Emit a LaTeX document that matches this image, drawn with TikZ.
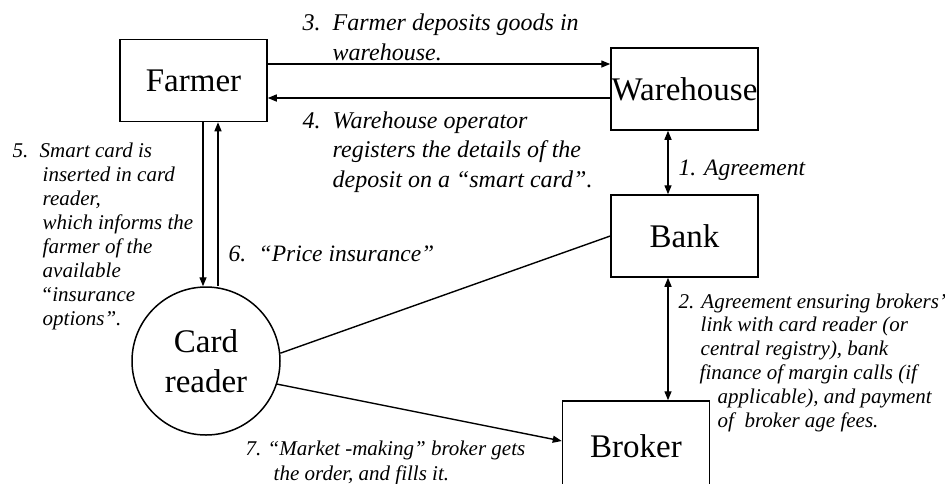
\documentclass[tikz,border=0pt]{standalone}
\usepackage{fontspec}
\setmainfont{Liberation Serif}
\usetikzlibrary{arrows.meta}
\tikzstyle{party}=[
        draw,
        line width = 1.5pt,
        minimum width = 147pt,
        minimum height = 82pt,
        inner sep = 0pt,
        font = \fontsize{33}{40}\selectfont
    ]
\tikzstyle{terminal}=[
    draw,
    circle,
    line width = 1.5pt,
    minimum size = 148pt,
    inner sep = 0pt,
    align = center,
    font = \fontsize{33}{40}\selectfont
]
\tikzstyle{note}=[
    anchor = base west,
    align = left,
    inner sep = 0pt
]
\newcommand{\stepno}[2]{\makebox[#1][l]{#2}}

\begin{document}
\begin{tikzpicture}[x=1pt, y=-1pt, line width=1.4pt, >={Triangle[length=9pt,width=7pt]}]
        \useasboundingbox (0,0) rectangle (945,483);
        \clip (0,0) rectangle (945,483);

        \node[party] (farmer) at (193.5,80.5) {Farmer};
        \node[party] (wh) at (684.5,89) {Warehouse};
        \node[party] (bank) at (684.5,236) {Bank};
        \node[party, minimum height = 90pt] (broker) at (636,446) {Broker};
        \node[terminal] (card) at (206,361) {Card\\reader};

        \draw[->] ([yshift=16.5pt]farmer.east) -- ([yshift=16.5pt]farmer.east -| wh.west);
        \draw[->] ([yshift=-17.5pt]farmer.east -| wh.west) -- ([yshift=-17.5pt]farmer.east);
        \draw[->] ([xshift=9.5pt]farmer.south) -- ([xshift=9.5pt]farmer.south |- card.north);
        \draw[->] ([xshift=24.5pt]farmer.south |- card.north) -- ([xshift=24.5pt]farmer.south);
        \draw[<->] ([xshift=-16.5pt]wh.south) -- ([xshift=-16.5pt]bank.north);
        \draw[<->] ([xshift=-16.5pt]bank.south) -- ([xshift=-16.5pt]bank.south |- broker.north);
        \draw (card.6) -- (bank.west);
        \draw[->] (card.-18) -- ([yshift=5pt]broker.west);

        % multi-line notes sit on the baseline of their last line
        \node[note, font=\itshape\fontsize{24}{30}\selectfont] (l3) at (302,60)
            {\stepno{30pt}{3.}Farmer deposits goods in\\\hspace*{30pt}warehouse.};
        \node[note, font=\itshape\fontsize{24}{29.5}\selectfont] (l4) at (302,187)
            {\stepno{30pt}{4.}Warehouse operator\\\hspace*{30pt}registers the details of the\\\hspace*{30pt}deposit on a ``smart card''.};
        \node[note, font=\itshape\fontsize{23.5}{28}\selectfont] (l1) at (678,175) {1. Agreement};
        \node[note, font=\itshape\fontsize{21}{23.9}\selectfont] (l5) at (12,325)
            {\stepno{27pt}{5.}Smart card is\\\hspace*{30pt}inserted in card\\\hspace*{30pt}reader,\\\hspace*{30pt}which informs the\\\hspace*{30pt}farmer of the\\\hspace*{30pt}available\\\hspace*{28pt}``insurance\\\hspace*{30pt}options''.};
        \node[note, font=\itshape\fontsize{23.5}{28}\selectfont] (l6) at (228,261) {\stepno{30pt}{6.}``Price insurance''};
        \node[note, font=\itshape\fontsize{21}{23.8}\selectfont] (l2) at (678,427)
            {2. Agreement ensuring brokers'\\\hspace*{22pt}link with card reader (or\\\hspace*{22pt}central registry), bank\\\hspace*{21pt}finance of margin calls (if\\\hspace*{39pt}applicable), and payment\\\hspace*{39pt}of\ \ broker age fees.};
        \node[note, font=\itshape\fontsize{21}{25}\selectfont] (l7) at (245,480)
            {\stepno{22pt}{7.}``Market -making'' broker gets\\\hspace*{28pt}the order, and fills it.};

    \end{tikzpicture}
\end{document}
